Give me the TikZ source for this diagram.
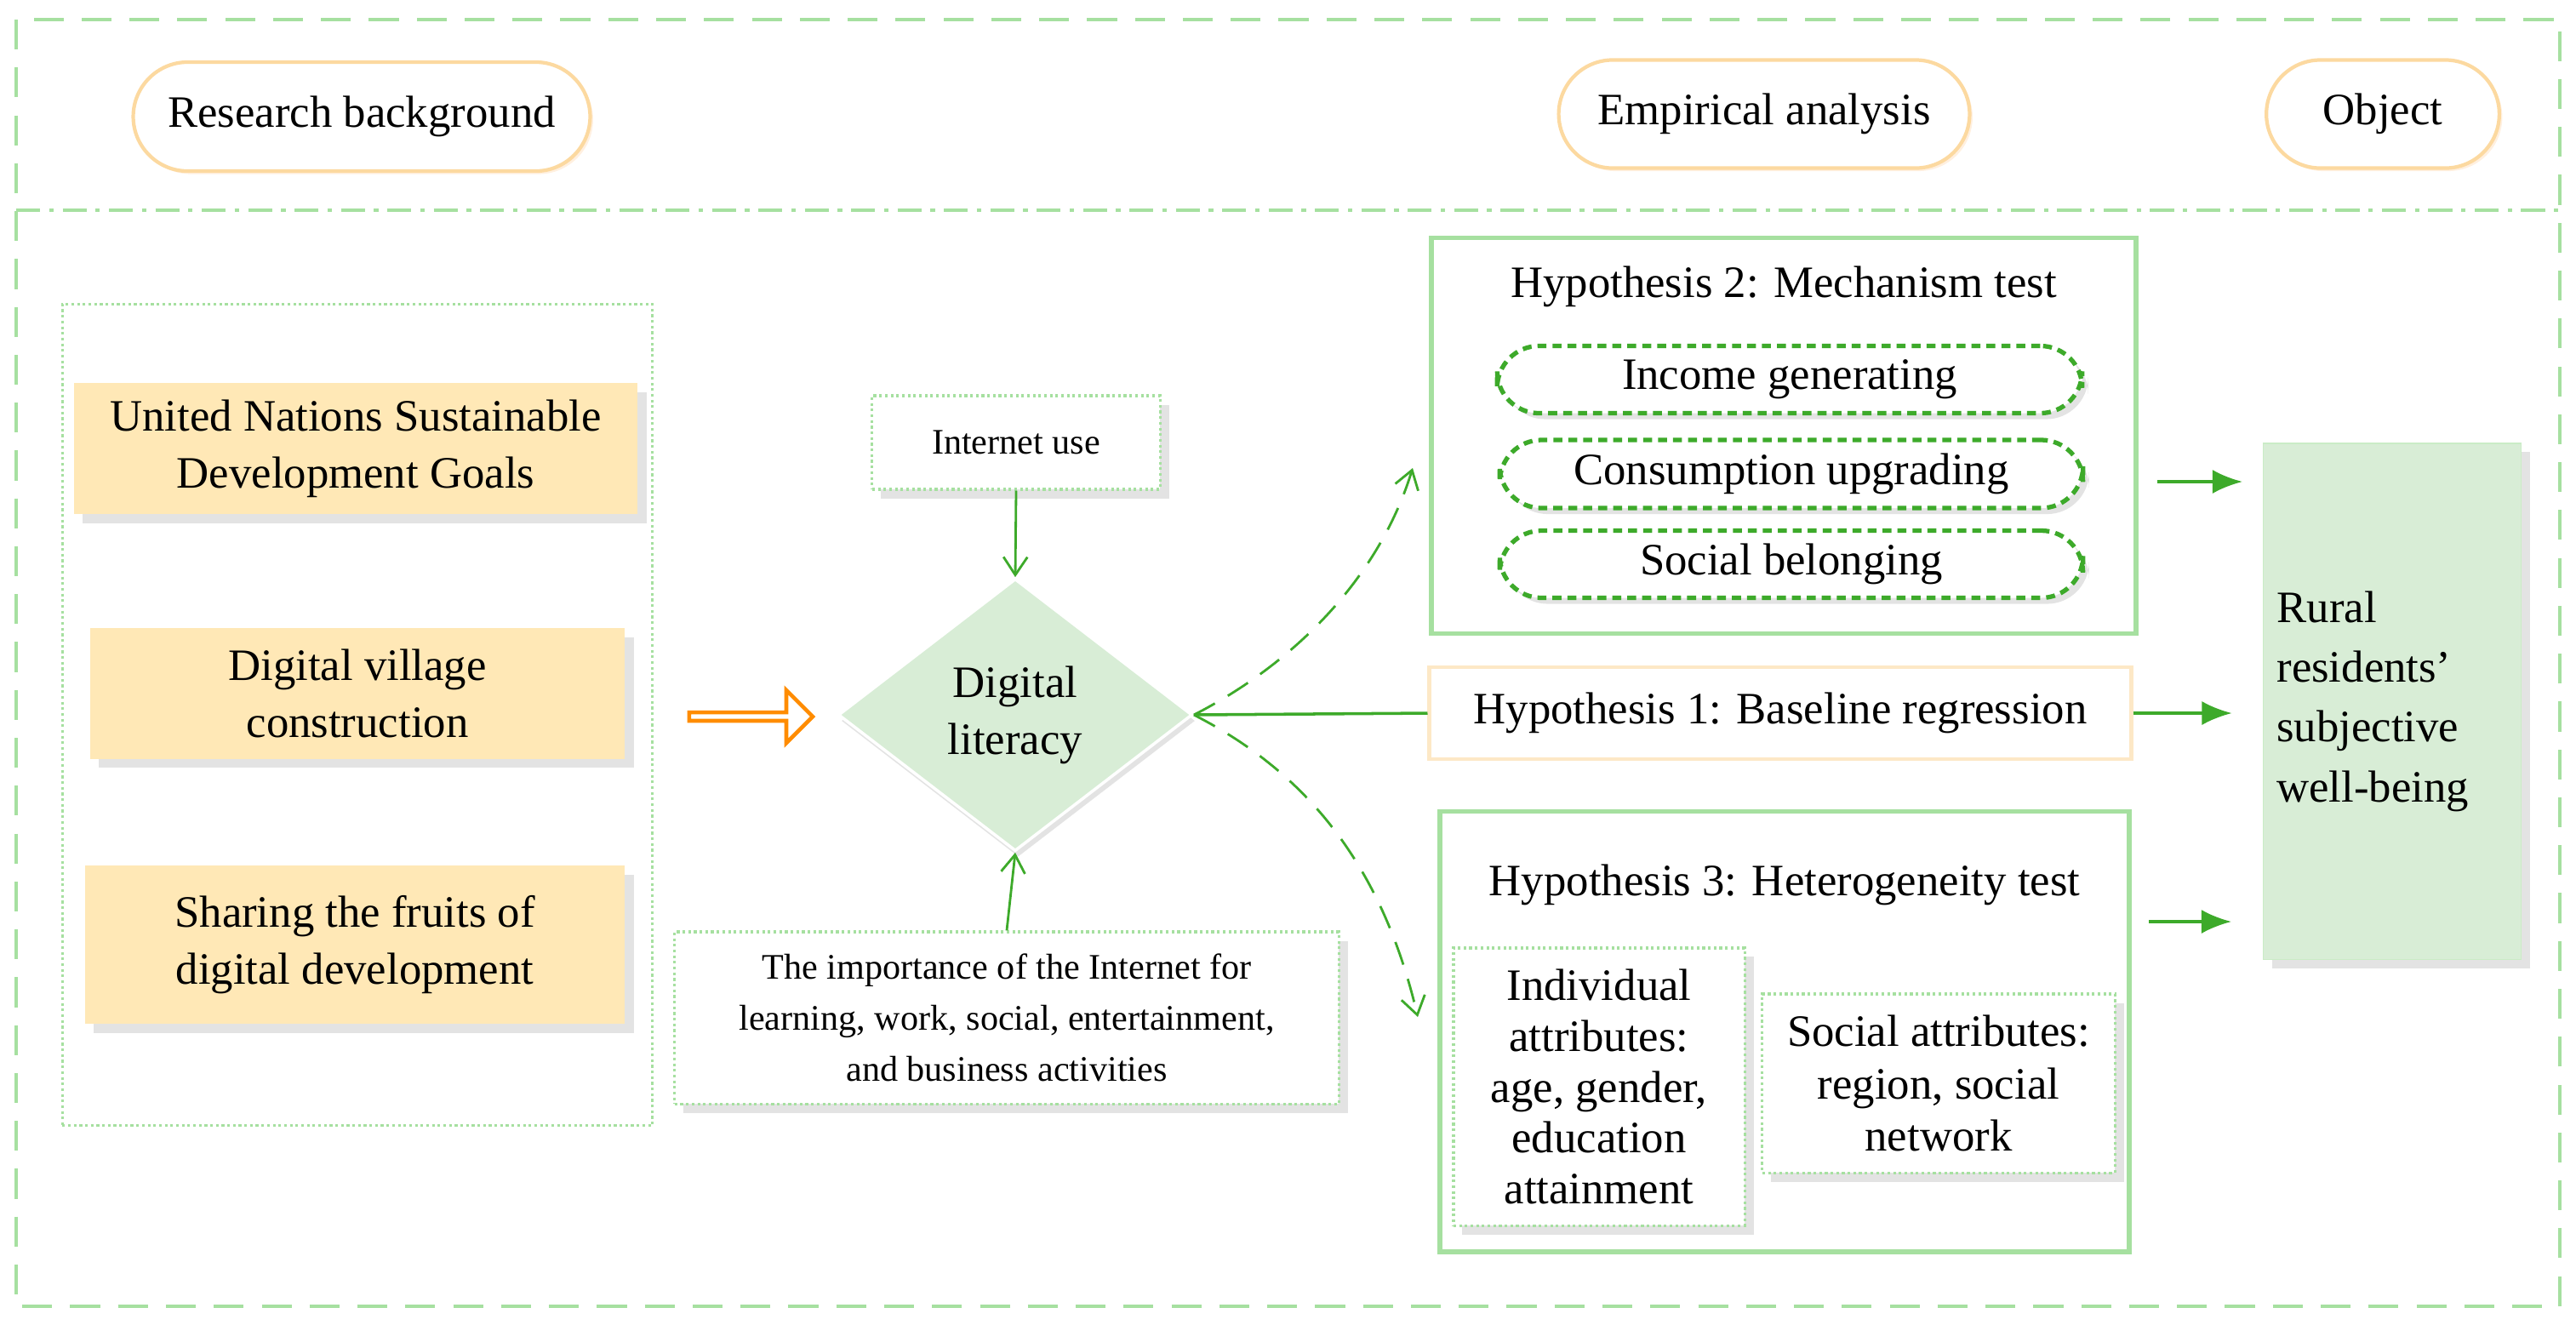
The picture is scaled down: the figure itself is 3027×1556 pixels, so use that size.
\documentclass[tikz,border=0pt]{standalone}
\usepackage{fontspec}
\setmainfont{Liberation Serif}
\usetikzlibrary{shapes.geometric,shapes.arrows,shapes.misc,arrows.meta,shadows,calc}
\definecolor{lg}{HTML}{A6E0A0}
\definecolor{dg}{HTML}{3DAA2A}
\definecolor{org}{HTML}{FCD9A0}
\definecolor{cream}{HTML}{FFE8B6}
\definecolor{mint}{HTML}{D8EDD6}
\begin{document}
\begin{tikzpicture}[x=0.01cm,y=-0.01cm,
  big/.style={font=\fontsize{15}{19}\selectfont},
  sm/.style={font=\fontsize{12}{17}\selectfont},
  shd/.style={drop shadow={opacity=0.22,shadow xshift=3pt,shadow yshift=-3pt}},
  pill/.style={rounded rectangle,draw=org,line width=1.2pt,fill=white,big,drop shadow={opacity=0.12,shadow xshift=1pt,shadow yshift=-1pt,fill=orange}},
  cbox/.style={fill=cream,draw=none,shd,big,align=center},
  dbox/.style={draw=lg,densely dotted,line width=0.9pt,fill=white,align=center},
  mech/.style={draw=dg,dash pattern=on 3pt off 2pt,line width=1.5pt,rounded corners=14pt,fill=white,big,drop shadow={opacity=0.22,shadow xshift=2pt,shadow yshift=-2pt}},
  hbox/.style={draw=lg,line width=1.6pt,fill=white},
  arr/.style={draw=dg,line width=1pt,-{Latex[length=10pt,width=8pt]}},
  thin/.style={draw=dg,line width=0.8pt,-{Straight Barb[length=6pt,width=8pt]}}
]
\useasboundingbox (0,0) rectangle (3027,1556);
\draw[lg,line width=1.3pt,dash pattern=on 10pt off 6pt] (19,23) rectangle (3008,1535);
\draw[lg,line width=1.1pt,dash pattern=on 8pt off 3pt on 1.5pt off 3pt] (19,247) -- (3008,247);

\node[pill,minimum width=5.6cm,minimum height=1.28cm] (rb) at (425,137) {Research background};
\node[pill,minimum width=5.06cm,minimum height=1.27cm] (ea) at (2073,134) {Empirical analysis};
\node[pill,minimum width=2.97cm,minimum height=1.27cm] (ob) at (2800,134) {Object};

\node[dbox,minimum width=6.93cm,minimum height=9.65cm,drop shadow={opacity=0.12,shadow xshift=0pt,shadow yshift=0pt,fill=green!60!black}] (left) at (420,840) {};
\node[cbox,minimum width=6.62cm,minimum height=1.54cm] (un) at (418,527) {United Nations Sustainable\\Development Goals};
\node[cbox,minimum width=6.28cm,minimum height=1.53cm] (dv) at (420,815) {Digital village\\construction};
\node[cbox,minimum width=6.34cm,minimum height=1.86cm] (sf) at (417,1110) {Sharing the fruits of\\digital development};

\node[single arrow,draw=orange!90!yellow,line width=1.3pt,fill=white,minimum width=0.62cm,single arrow head extend=0.12cm,minimum height=1.45cm,inner sep=0pt] (ha) at (880,842) {};

\node[diamond,fill=mint,draw=white,line width=1pt,minimum width=4.16cm,minimum height=3.2cm,inner sep=0pt,aspect=1.3,drop shadow={opacity=0.22,shadow xshift=1pt,shadow yshift=-2pt},big,align=center] (dl) at (1193,840) {Digital\\literacy};

\node[dbox,sm,minimum width=3.38cm,minimum height=1.1cm,shd] (iu) at (1194,520) {Internet use};
\node[dbox,sm,minimum width=7.8cm,minimum height=2.02cm,shd] (imp) at (1183,1196) {The importance of the Internet for\\learning, work, social, entertainment,\\and business activities};
\draw[thin] (iu.south) -- (dl.north);
\draw[thin] (imp.north) -- (dl.south);

\node[hbox,minimum width=8.27cm,minimum height=4.65cm] (h2) at (2096,512) {};
\node[big,anchor=north] (h2t) at (2096,300) {Hypothesis 2: Mechanism test};
\node[mech,minimum width=6.87cm,minimum height=0.79cm] (ig) at (2103,446) {Income generating};
\node[mech,minimum width=6.85cm,minimum height=0.8cm] (cu) at (2105,557) {Consumption upgrading};
\node[mech,minimum width=6.85cm,minimum height=0.79cm] (sb) at (2105,663) {Social belonging};

\node[draw=org!60,line width=1.3pt,fill=white,big,minimum width=8.24cm,minimum height=1.08cm] (h1) at (2092,838) {Hypothesis 1: Baseline regression};

\node[hbox,minimum width=8.09cm,minimum height=5.17cm] (h3) at (2097,1212) {};
\node[big,anchor=north] (h3t) at (2097,1003) {Hypothesis 3: Heterogeneity test};
\node[dbox,font=\fontsize{15}{17}\selectfont,minimum width=3.42cm,minimum height=3.26cm,inner sep=1pt,shd] (ia) at (1879,1277) {Individual\\attributes:\\age, gender,\\education\\attainment};
\node[dbox,font=\fontsize{15}{17.5}\selectfont,minimum width=4.14cm,minimum height=2.1cm,inner sep=1pt,shd] (sa) at (2278,1273) {Social attributes:\\region, social\\network};

\node[fill=mint,draw=lg!60,minimum width=3.03cm,minimum height=6.06cm,shd] (rr) at (2811,824) {};
\node[align=left,anchor=west,font=\fontsize{15}{20}\selectfont] (rrt) at (2663,824) {Rural\\residents'\\subjective\\well-being};

\coordinate (a2s) at (2535,566); \coordinate (a2e) at (2635,566);
\coordinate (a3s) at (2525,1083); \coordinate (a3e) at (2622,1083);
\draw[arr] (a2s) -- (a2e);
\draw[arr] (h1.east) -- ($(h1.east)+(116,0)$);
\draw[arr] (a3s) -- (a3e);

\draw[dg,line width=1pt] (dl.east) -- (h1.west);
\coordinate (c2) at (1660,550); \coordinate (c3) at (1666,1195);
\draw[thin,dash pattern=on 8pt off 5pt] (dl.east) .. controls (1520,780) and (1620,680) .. (c2);
\draw[thin,dash pattern=on 8pt off 5pt] (dl.east) .. controls (1520,900) and (1620,1000) .. (c3);
\end{tikzpicture}
\end{document}
